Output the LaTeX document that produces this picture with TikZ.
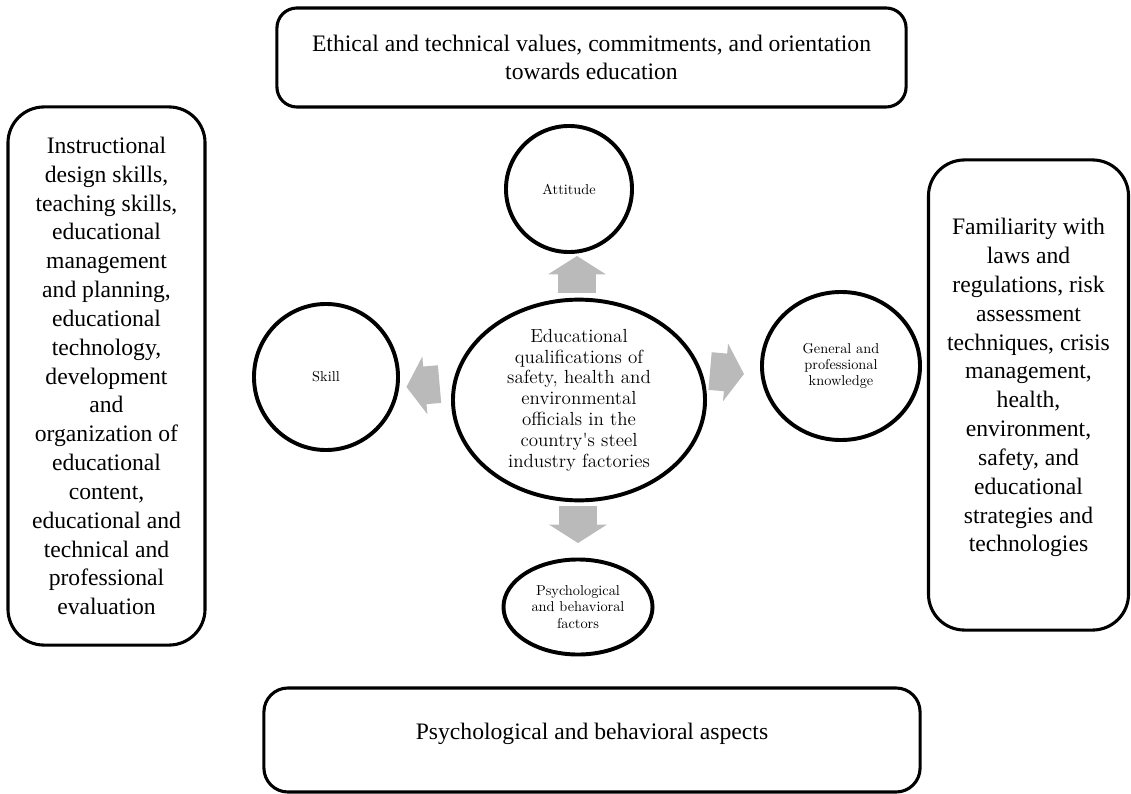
\documentclass[tikz,border=0pt]{standalone}
\usepackage{fontspec}
\newfontfamily\boxfont{Liberation Serif}
\usetikzlibrary{shapes.geometric}
\usetikzlibrary{shapes.arrows}

\begin{document}
\begin{tikzpicture}
				[x=0.025cm,y=-0.025cm,
				aspectbox/.style={draw,line width=2.2pt,rounded corners=0.6cm,align=center,inner sep=0pt,
					font=\boxfont\fontsize{16.8}{20.5}\selectfont},
				factor/.style={draw,ellipse,line width=2.8pt,inner sep=0pt,align=center,
					font=\fontsize{10.2}{11.5}\selectfont},
				core/.style={factor,font=\fontsize{13.5}{14.8}\selectfont},
				pointer/.style={single arrow,fill=black!27,draw=none,inner xsep=0pt,inner ysep=0.46cm,
					minimum width=1.45cm,single arrow head extend=0.25cm,single arrow tip angle=115}]
				
				\useasboundingbox (0,0) rectangle (1131,794);
				
				% aspects
				\node[aspectbox,minimum width=15.725cm,minimum height=2.475cm,rounded corners=0.5cm] (ethic) at (591.5,57.5)
					{Ethical and technical values, commitments, and orientation\\towards education};
				\node[aspectbox,minimum width=4.925cm,minimum height=13.45cm,rounded corners=0.9cm] (skills) at (106.5,376)
					{Instructional\\design skills,\\teaching skills,\\educational\\management\\and planning,\\educational\\technology,\\development\\and\\organization of\\educational\\content,\\educational and\\technical and\\professional\\evaluation};
				\node[aspectbox,minimum width=5.0cm,minimum height=11.75cm,rounded corners=0.9cm,text depth=14pt] (laws) at (1028.5,395)
					{Familiarity with\\laws and\\regulations, risk\\assessment\\techniques, crisis\\management,\\health,\\environment,\\safety, and\\educational\\strategies and\\technologies};
				\node[aspectbox,minimum width=16.4cm,minimum height=2.6cm,text height=11.5pt,text depth=12.5pt] (behav) at (592,740)
					{Psychological and behavioral aspects};
				
				% qualifications
				\node[core,minimum width=6.3cm,minimum height=5.0cm] (Q) at (579,400)
					{Educational\\qualifications of\\safety, health and\\environmental\\officials in the\\country\textquotesingle s steel\\industry factories};
				\node[factor,minimum width=3.15cm,minimum height=3.15cm] (A) at (569,189) {Attitude};
				\node[factor,minimum width=3.6cm,minimum height=3.65cm] (S) at (326,377) {Skill};
				\node[factor,minimum width=3.95cm,minimum height=3.7cm] (K) at (841,366) {General and\\professional\\knowledge};
				\node[factor,minimum width=3.725cm,minimum height=2.375cm] (P) at (578,607) {Psychological\\and behavioral\\factors};
				
				% block arrows
				\node[pointer,minimum height=0.925cm,rotate=90] (toA) at (577,280.5) {};
				\node[pointer,minimum height=0.925cm,rotate=-90] (toP) at (578,518.5) {};
				\node[pointer,minimum height=0.85cm,rotate=-5] (toK) at (721,372) {};
				\node[pointer,minimum height=0.83cm,rotate=185] (toS) at (429,385) {};
			\end{tikzpicture}
\end{document}
